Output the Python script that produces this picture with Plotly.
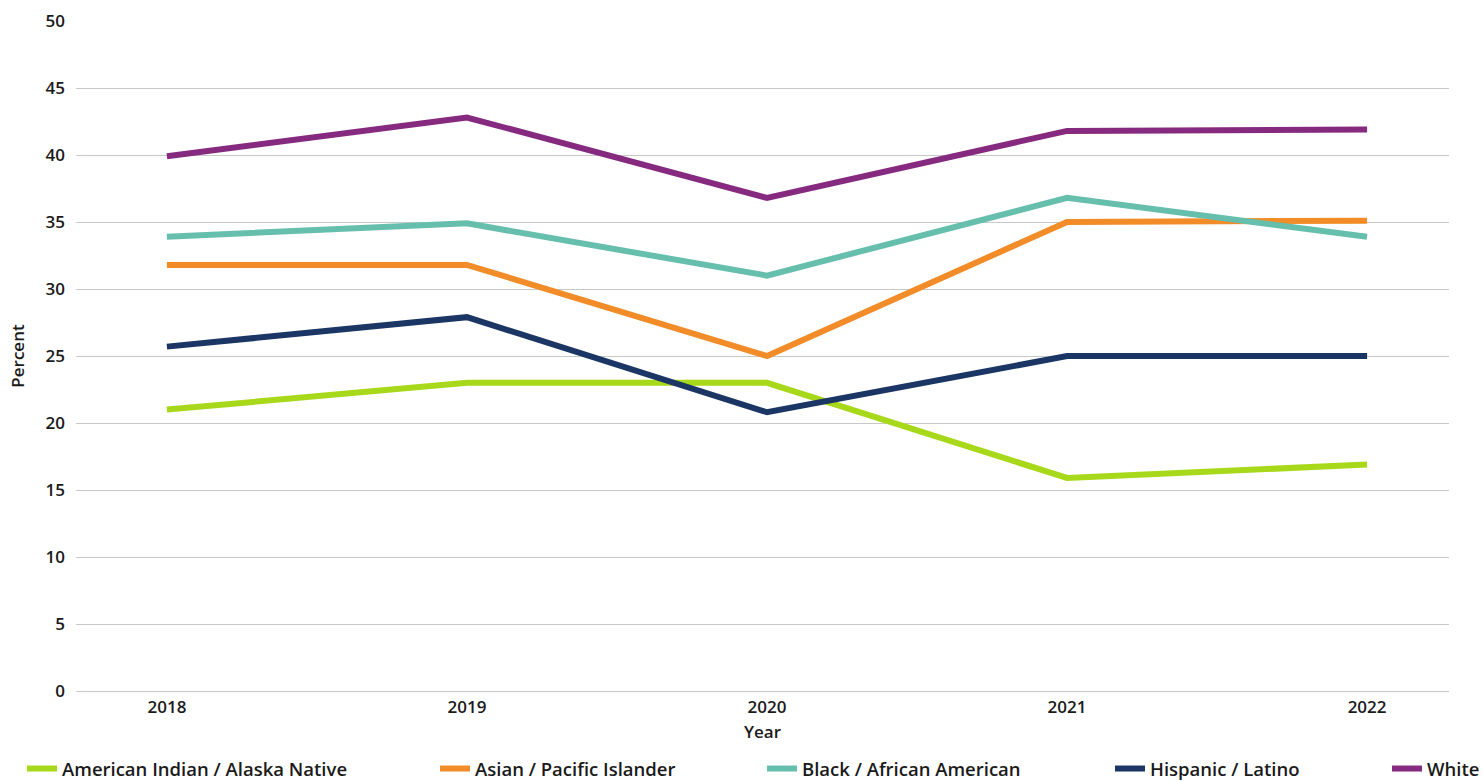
import plotly.graph_objects as go

years = ["2018", "2019", "2020", "2021", "2022"]
series_names = ["American Indian / Alaska Native", "Asian / Pacific Islander",
                "Black / African American", "Hispanic / Latino", "White"]
aian = [21.0, 23.0, 23.0, 15.9, 16.9]
asian = [31.8, 31.8, 25.0, 35.0, 35.1]
black = [33.9, 34.9, 31.0, 36.8, 33.9]
hispanic = [25.7, 27.9, 20.8, 25.0, 25.0]
white = [39.9, 42.8, 36.8, 41.8, 41.9]
colors = ["#A8D81A", "#F28C28", "#66BFAD", "#1B3564", "#862A80"]
y_ticks = [0, 5, 10, 15, 20, 25, 30, 35, 40, 45, 50]

# legend text left edges in pixels (layout only)
legend_text_px = [62, 475, 802, 1150, 1427]
PL, PR, PT, PB = 76, 34, 21, 90
W, H = 1483, 781
pw = W - PL - PR
ph = H - PT - PB
LEG_Y = 769

fig = go.Figure()
legend_ids = ["legend", "legend2", "legend3", "legend4", "legend5"]
for name, vals, col, lid in zip(series_names, [aian, asian, black, hispanic, white], colors, legend_ids):
    fig.add_trace(go.Scatter(x=years, y=vals, mode="lines", name=name,
                             line=dict(color=col, width=6), legend=lid))

font = dict(family="Open Sans", size=17, color="#1a1a1a", weight=600)
lfont = dict(family="Open Sans", size=18.5, color="#1a1a1a", weight=600)
layout_legends = {}
for lid, tx in zip(legend_ids, legend_text_px):
    layout_legends[lid] = dict(orientation="h", x=(tx - 40 - PL) / pw, xanchor="left",
                               y=-(LEG_Y - (H - PB)) / ph,
                               yanchor="middle", font=lfont, bgcolor="rgba(0,0,0,0)")

fig.update_layout(
    width=W, height=H,
    margin=dict(l=PL, r=PR, t=PT, b=PB, autoexpand=False),
    plot_bgcolor="white", paper_bgcolor="white",
    font=font,
    showlegend=True,
    xaxis=dict(type="category", range=[-0.303, 4.273], showgrid=False, automargin=False,
               showline=False, ticks="", tickfont=font, ticklabelstandoff=4,
               title=dict(text="Year", font=font, standoff=9)),
    yaxis=dict(range=[0, 50], tickvals=y_ticks, showgrid=True, gridcolor="#c8c8c8",
               gridwidth=1, zeroline=True, zerolinecolor="#c8c8c8", zerolinewidth=1,
               automargin=False,
               ticks="", tickfont=font, ticklabelstandoff=10,
               title=dict(text="Percent", font=font, standoff=16)),
    **layout_legends,
)
fig.write_html("out.html", config={"displayModeBar": False},
               post_script="document.body.style.margin='0';document.body.style.overflow='hidden';")
